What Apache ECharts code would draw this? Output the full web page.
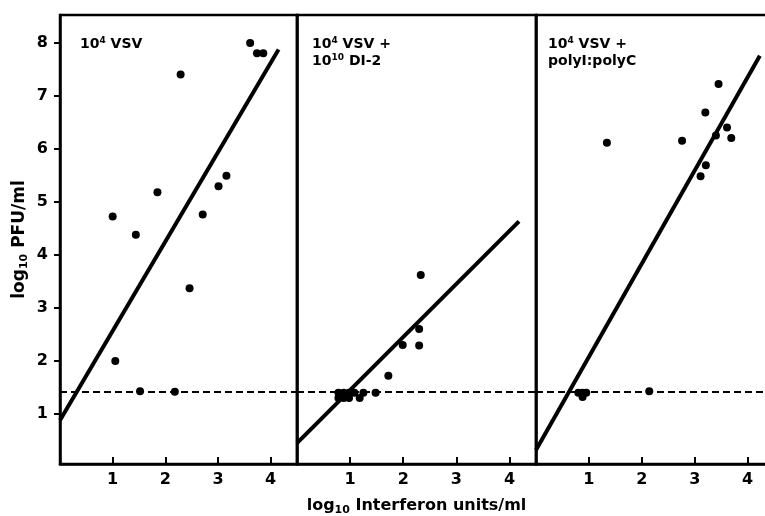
<!DOCTYPE html>
<html>
<head>
<meta charset="utf-8">
<script src="https://cdn.jsdelivr.net/npm/echarts@6/dist/echarts.min.js"></script>
<style>html,body{margin:0;padding:0;background:#fff}#c{width:765px;height:516px}</style>
</head>
<body>
<div id="c"></div>
<script>
// ---- data ----
var xTicks = [1, 2, 3, 4];
var yTicks = [1, 2, 3, 4, 5, 6, 7, 8];
var threshold = 1.42;

// Panel 1: 10^4 VSV
var p1Points = [[3.61,7.99],[3.74,7.80],[3.86,7.80],[2.29,7.40],[1.85,5.18],[1.00,4.72],[1.44,4.38],[2.71,4.76],[3.01,5.29],[3.16,5.49],[2.46,3.37],[1.05,2.00],[1.52,1.43],[2.18,1.42]];
var p1Fit = [[0,0.88],[4.15,7.87]];

// Panel 2: 10^4 VSV + 10^10 DI-2
var p2Points = [[2.33,3.62],[2.30,2.60],[1.99,2.30],[2.30,2.29],[1.72,1.72],[1.48,1.40],[0.78,1.40],[0.78,1.30],[0.88,1.40],[0.88,1.30],[0.98,1.40],[0.98,1.30],[1.08,1.40],[1.18,1.30],[1.25,1.40]];
var p2Fit = [[0,0.45],[4.18,4.63]];

// Panel 3: 10^4 VSV + polyI:polyC
var p3Points = [[3.45,7.22],[3.20,6.68],[3.61,6.40],[3.40,6.25],[3.69,6.20],[2.76,6.15],[1.34,6.11],[3.21,5.69],[3.11,5.48],[0.80,1.40],[0.88,1.40],[0.95,1.40],[0.88,1.32],[2.14,1.43]];
var p3Fit = [[0,0.32],[4.23,7.75]];

var panelTitles = [
  '{b|10}{s|4}{b| VSV}',
  '{b|10}{s|4}{b| VSV +}\n{b|10}{s|10}{b| DI-2}',
  '{b|10}{s|4}{b| VSV +}\n{b|polyI:polyC}'
];

// ---- chart ----
var FONT = '"DejaVu Sans", "Liberation Sans", Arial, sans-serif';
var chart = echarts.init(document.getElementById('c'), null, {renderer: 'canvas'});
var grids = [
  {left: 60, top: 15, width: 237, height: 449},
  {left: 297, top: 15, width: 239, height: 449},
  {left: 536, top: 15, width: 245, height: 449}
];
var xMax = [4.5, 4.5, 4.63];
grids.forEach(function (g) {
  g.show = true; g.borderColor = '#000'; g.borderWidth = 2.5; g.backgroundColor = 'transparent';
  g.containLabel = false; g.outerBoundsMode = 'none';
});

var richTitle = {
  b: {fontFamily: FONT, fontWeight: 'bold', fontSize: 14, color: '#000', lineHeight: 17},
  s: {fontFamily: FONT, fontWeight: 'bold', fontSize: 9, color: '#000', verticalAlign: 'top', lineHeight: 17, padding: [0,0,6,0]}
};

var titles = [
  {left: 80, top: 36},
  {left: 312, top: 36},
  {left: 548, top: 36}
].map(function (p, i) {
  return {left: p.left, top: p.top, padding: 0, text: panelTitles[i], textStyle: {rich: richTitle}};
});

var nameRich = {
  a: {fontFamily: FONT, fontWeight: 'bold', fontSize: 16, color: '#000', lineHeight: 20},
  s: {fontFamily: FONT, fontWeight: 'bold', fontSize: 11, color: '#000', verticalAlign: 'bottom', lineHeight: 20, padding: [7,0,0,0]}
};
var yNameRich = {
  a: {fontFamily: FONT, fontWeight: 'bold', fontSize: 17, color: '#000', lineHeight: 20},
  s: {fontFamily: FONT, fontWeight: 'bold', fontSize: 11, color: '#000', verticalAlign: 'bottom', lineHeight: 20, padding: [7,0,0,0]}
};

var xAxes = [0,1,2].map(function (i) {
  var ax = {
    type: 'value', gridIndex: i, min: 0, max: xMax[i],
    axisLine: {show: true, onZero: false, lineStyle: {color: '#000', width: 2.5}},
    axisTick: {show: true, inside: true, length: 7, lineStyle: {color: '#000', width: 2}, customValues: xTicks},
    axisLabel: {show: true, margin: 8, fontFamily: FONT, fontWeight: 'bold', fontSize: 16, color: '#000', customValues: xTicks},
    splitLine: {show: false}
  };
  if (i === 1) {
    ax.name = '{a|log}{s|10}{a| Interferon units/ml}';
    ax.nameLocation = 'middle';
    ax.nameGap = 32;
    ax.nameTextStyle = {rich: nameRich};
  }
  return ax;
});

var yAxes = [0,1,2].map(function (i) {
  var ax = {
    type: 'value', gridIndex: i, min: 0.057, max: 8.52,
    axisLine: {show: true, onZero: false, lineStyle: {color: '#000', width: 2.5}},
    axisTick: {show: i === 0, inside: false, length: 6, lineStyle: {color: '#000', width: 2}, customValues: yTicks},
    axisLabel: {show: i === 0, margin: 12, fontFamily: FONT, fontWeight: 'bold', fontSize: 16, color: '#000', customValues: yTicks},
    splitLine: {show: false}
  };
  if (i === 0) {
    ax.name = '{a|log}{s|10}{a| PFU/ml}';
    ax.nameLocation = 'middle';
    ax.nameRotate = 90;
    ax.nameGap = 30;
    ax.nameTextStyle = {rich: yNameRich};
  }
  return ax;
});

var pts = [p1Points, p2Points, p3Points];
var fits = [p1Fit, p2Fit, p3Fit];
var series = [];
[0,1,2].forEach(function (i) {
  series.push({
    type: 'line', xAxisIndex: i, yAxisIndex: i, data: fits[i],
    showSymbol: false, symbol: 'none', silent: true, animation: false,
    lineStyle: {color: '#000', width: 4}
  });
  series.push({
    type: 'scatter', xAxisIndex: i, yAxisIndex: i, data: pts[i],
    symbol: 'circle', symbolSize: 8, itemStyle: {color: '#000', opacity: 1}, animation: false, silent: true,
    markLine: {
      silent: true, symbol: 'none', animation: false, label: {show: false},
      lineStyle: {color: '#000', width: 2, type: [7, 4], opacity: 1},
      data: [{yAxis: threshold}]
    }
  });
});

chart.setOption({
  animation: false,
  backgroundColor: '#fff',
  title: titles,
  grid: grids,
  xAxis: xAxes,
  yAxis: yAxes,
  series: series
});
</script>
</body>
</html>
